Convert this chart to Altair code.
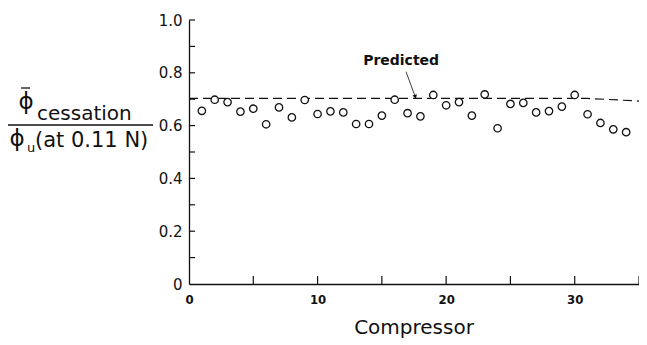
import altair as alt
import pandas as pd

# ---- data ----
compressor = list(range(1, 35))
ratio = [0.656, 0.698, 0.689, 0.653, 0.664, 0.605, 0.669, 0.631, 0.697, 0.644,
         0.654, 0.650, 0.606, 0.606, 0.638, 0.698, 0.647, 0.635, 0.716, 0.677,
         0.689, 0.638, 0.718, 0.590, 0.682, 0.686, 0.650, 0.655, 0.672, 0.716,
         0.643, 0.610, 0.586, 0.575]
pred_x = [0, 31, 35]
pred_y = [0.703, 0.703, 0.693]
x_tick_values = [5, 10, 15, 20, 25, 30, 35]
x_label_values = [0, 10, 20, 30]
y_tick_values = [0.1, 0.2, 0.3, 0.4, 0.5, 0.6, 0.7, 0.8, 0.9, 1.0]
y_label_values = [0, 0.2, 0.4, 0.6, 0.8, 1.0]
annot_x = [16.5]
annot_y = [0.83]
arrow_x = [16.88]
arrow_y = [0.804]
arrow_x2 = [17.6]
arrow_y2 = [0.709]

INK = "#111111"
W, H = 450, 264

xscale = alt.Scale(domain=[0, 35], nice=False, zero=False)
yscale = alt.Scale(domain=[0, 1], nice=False, zero=False)
xaxis = alt.Axis(values=x_label_values, title=None, grid=False, ticks=False, tickSize=0,
                 labelFont="DejaVu Sans Condensed", labelFontWeight="bold", labelFontSize=13,
                 labelColor=INK, labelPadding=9, labelFlush=False,
                 domainColor=INK, domainWidth=1.3)
yaxis = alt.Axis(values=y_label_values, title=None, grid=False, ticks=False, tickSize=0,
                 labelExpr="datum.value == 0 ? '0' : format(datum.value, '.1f')",
                 labelFont="DejaVu Sans", labelFontSize=15, labelColor=INK,
                 labelPadding=7, labelFlush=False,
                 domainColor=INK, domainWidth=1.3)

X = alt.X("x:Q", scale=xscale, axis=xaxis)
Y = alt.Y("y:Q", scale=yscale, axis=yaxis)

pts_df = pd.DataFrame({"x": compressor, "y": ratio})
pred_df = pd.DataFrame({"x": pred_x, "y": pred_y})
xt_df = pd.DataFrame({"x": x_tick_values, "y": [0] * len(x_tick_values),
                      "y2": [0.03] * len(x_tick_values)})
yt_df = pd.DataFrame({"y": y_tick_values, "x": [0] * len(y_tick_values),
                      "x2": [0.47] * len(y_tick_values)})
ann_df = pd.DataFrame({"x": annot_x, "y": annot_y})
arr_df = pd.DataFrame({"x": arrow_x, "y": arrow_y, "x2": arrow_x2, "y2": arrow_y2})
head_df = pd.DataFrame({"x": arrow_x2, "y": arrow_y2})

pred = alt.Chart(pred_df).mark_line(color=INK, strokeWidth=1.2, strokeDash=[9, 5]).encode(x=X, y=Y)
points = alt.Chart(pts_df).mark_point(shape="circle", size=55, filled=True, fill="white",
                                      stroke=INK, strokeWidth=1.3, opacity=1).encode(x=X, y=Y)
xticks = alt.Chart(xt_df).mark_rule(color=INK, strokeWidth=1.2).encode(x=X, y=Y, y2="y2:Q")
yticks = alt.Chart(yt_df).mark_rule(color=INK, strokeWidth=1.2).encode(x=X, x2="x2:Q", y=Y)
ann = alt.Chart(ann_df).mark_text(text="Predicted", font="DejaVu Sans", fontWeight="bold",
                                  fontSize=14, color=INK, align="center",
                                  baseline="alphabetic").encode(x=X, y=Y)
arrow = alt.Chart(arr_df).mark_rule(color=INK, strokeWidth=0.8).encode(x=X, y=Y, x2="x2:Q", y2="y2:Q")
head = alt.Chart(head_df).mark_point(shape="triangle-up", angle=162, size=22, filled=True,
                                     color=INK, opacity=1).encode(x=X, y=Y)

one = pd.DataFrame({"a": [0]})


def txt(s, px, py, size, align="left", weight="normal", font="DejaVu Sans"):
    return alt.Chart(one).mark_text(text=s, font=font, fontSize=size, color=INK,
                                    align=align, baseline="alphabetic",
                                    fontWeight=weight).encode(x=alt.value(px), y=alt.value(py))


titles = [
    txt("Compressor", 225, 314, 20, align="center"),
    txt("\u03d5", -163, 89, 23, align="center"),
    txt("cessation", -152, 100, 20),
    txt("\u03d5", -172, 126, 23, align="center"),
    txt("u", -162, 132, 13),
    txt("(at 0.11 N)", -154, 127, 21),
]
bar = alt.Chart(one).mark_rule(color=INK, strokeWidth=1.3).encode(
    x=alt.value(-168), x2=alt.value(-159), y=alt.value(68))
frac = alt.Chart(one).mark_rule(color=INK, strokeWidth=1.5).encode(
    x=alt.value(-181), x2=alt.value(-36), y=alt.value(105))

chart = alt.layer(pred, points, xticks, yticks, ann, arrow, head, bar, frac, *titles).properties(
    width=W, height=H,
    autosize=alt.AutoSizeParams(type="none"),
    padding={"left": 181, "top": 12, "right": 0, "bottom": 56},
    background="white",
).configure_view(stroke=None)

chart.save("out.html", embed_options={"renderer": "svg", "actions": False})
